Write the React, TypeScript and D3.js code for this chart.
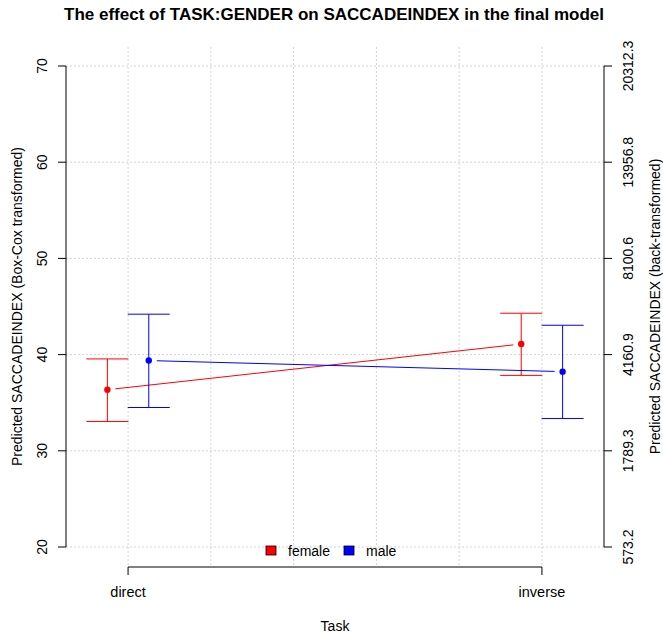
import React from "react";
import * as d3 from "d3";

const tasks = ["direct", "inverse"];
const genders = ["female", "male"];
const colors = ["#ff0000", "#0000ff"];
// [direct, inverse] per gender
const fitFemale = [36.35, 41.1];
const lowerFemale = [33.05, 37.84];
const upperFemale = [39.55, 44.3];
const fitMale = [39.38, 38.23];
const lowerMale = [34.5, 33.36];
const upperMale = [44.2, 43.05];
const leftTicks = [20, 30, 40, 50, 60, 70];
const rightTickLabels = ["573.2", "1789.3", "4160.9", "8100.6", "13956.8", "20312.3"];
const xGrid = [1.0, 1.2, 1.4, 1.6, 1.8, 2.0];

const W = 663, H = 637;
const FONT = "'Liberation Sans', Arial, Helvetica, sans-serif";

export default function App() {
  const x = d3.scaleLinear().domain([0.85, 2.15]).range([66, 604]);
  const y = d3.scaleLinear().domain([20, 70]).range([547, 66]);
  const dodge = 0.05;
  const series = [
    { fit: fitFemale, lo: lowerFemale, hi: upperFemale, off: -dodge },
    { fit: fitMale, lo: lowerMale, hi: upperMale, off: dodge },
  ];
  const cap = 21;
  const gap = 8;

  return (
    <svg width={W} height={H} style={{ position: "absolute", left: 0, top: 0, background: "#fff" }} fontFamily={FONT}>
      <text x={334} y={20} textAnchor="middle" fontWeight="bold" fontSize={17}>
        The effect of TASK:GENDER on SACCADEINDEX in the final model
      </text>
      {/* grid */}
      {leftTicks.map((t) => (
        <line key={"hg" + t} x1={66} x2={604} y1={y(t)} y2={y(t)} stroke="#d3d3d3" strokeDasharray="2,2" />
      ))}
      {xGrid.map((g) => (
        <line key={"vg" + g} x1={x(g)} x2={x(g)} y1={47} y2={566} stroke="#d3d3d3" strokeDasharray="2,2" />
      ))}
      {/* left axis */}
      <line x1={66} x2={66} y1={y(20)} y2={y(70)} stroke="#000" />
      {leftTicks.map((t) => (
        <g key={"lt" + t}>
          <line x1={58} x2={66} y1={y(t)} y2={y(t)} stroke="#000" />
          <text transform={`translate(47,${y(t)}) rotate(-90)`} textAnchor="middle" fontSize={14}>
            {t}
          </text>
        </g>
      ))}
      <text transform={`translate(22,${(y(20) + y(70)) / 2}) rotate(-90)`} textAnchor="middle" fontSize={14}>
        Predicted SACCADEINDEX (Box-Cox transformed)
      </text>
      {/* right axis */}
      <line x1={604} x2={604} y1={y(20)} y2={y(70)} stroke="#000" />
      {leftTicks.map((t, i) => (
        <g key={"rt" + t}>
          <line x1={604} x2={612} y1={y(t)} y2={y(t)} stroke="#000" />
          <text transform={`translate(633,${y(t)}) rotate(-90)`} textAnchor="middle" fontSize={14}>
            {rightTickLabels[i]}
          </text>
        </g>
      ))}
      <text transform={`translate(660,${(y(20) + y(70)) / 2}) rotate(-90)`} textAnchor="middle" fontSize={14}>
        Predicted SACCADEINDEX (back-transformed)
      </text>
      {/* bottom axis */}
      <line x1={x(1)} x2={x(2)} y1={567} y2={567} stroke="#000" />
      {tasks.map((t, i) => (
        <g key={t}>
          <line x1={x(i + 1)} x2={x(i + 1)} y1={567} y2={575} stroke="#000" />
          <text x={x(i + 1)} y={597} textAnchor="middle" fontSize={14.5}>
            {t}
          </text>
        </g>
      ))}
      <text x={335} y={631} textAnchor="middle" fontSize={14}>
        Task
      </text>
      {/* series */}
      {series.map((s, si) => {
        const pts = s.fit.map((v, i) => [x(i + 1 + s.off), y(v)] as [number, number]);
        const [p0, p1] = pts;
        const dx = p1[0] - p0[0], dy = p1[1] - p0[1];
        const len = Math.hypot(dx, dy);
        const ux = dx / len, uy = dy / len;
        return (
          <g key={"s" + si} stroke={colors[si]} fill={colors[si]}>
            <line x1={p0[0] + ux * gap} y1={p0[1] + uy * gap} x2={p1[0] - ux * gap} y2={p1[1] - uy * gap} />
            {s.fit.map((v, i) => {
              const cx = x(i + 1 + s.off);
              return (
                <g key={i}>
                  <line x1={cx} x2={cx} y1={y(s.lo[i])} y2={y(s.hi[i])} />
                  <line x1={cx - cap} x2={cx + cap} y1={y(s.lo[i])} y2={y(s.lo[i])} />
                  <line x1={cx - cap} x2={cx + cap} y1={y(s.hi[i])} y2={y(s.hi[i])} />
                  <circle cx={cx} cy={y(v)} r={3.2} stroke="none" />
                </g>
              );
            })}
          </g>
        );
      })}
      {/* legend */}
      {genders.map((g, i) => {
        const lx = i === 0 ? 266 : 344;
        return (
          <g key={g}>
            <rect x={lx} y={546} width={10} height={9} fill={colors[i]} stroke="#000" strokeWidth={0.8} />
            <text x={lx + 22} y={555.5} fontSize={14}>
              {g}
            </text>
          </g>
        );
      })}
    </svg>
  );
}
